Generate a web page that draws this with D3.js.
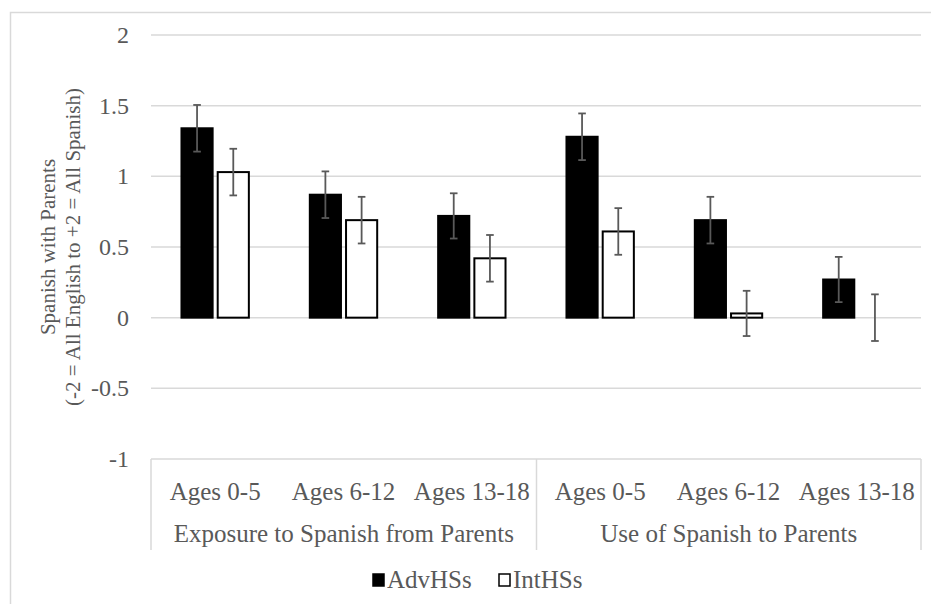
<!DOCTYPE html>
<html>
<head>
<meta charset="utf-8">
<script src="https://cdn.jsdelivr.net/npm/d3@7"></script>
<style>
  html, body { margin: 0; padding: 0; background: #fff; }
  svg { display: block; }
</style>
</head>
<body>
<svg id="chart" width="931" height="604" font-family="Liberation Serif"></svg>
<script>
// Category labels (two-level axis) and series
const ageLabels = ["Ages 0-5", "Ages 6-12", "Ages 13-18", "Ages 0-5", "Ages 6-12", "Ages 13-18"];
const groupLabels = ["Exposure to Spanish from Parents", "Use of Spanish to Parents"];
const seriesNames = ["AdvHSs", "IntHSs"];
const advValues = [1.34, 0.87, 0.72, 1.28, 0.69, 0.27];
const advErrors = [0.165, 0.165, 0.16, 0.165, 0.165, 0.16];
const intValues = [1.03, 0.69, 0.42, 0.61, 0.03, 0.00];
const intErrors = [0.165, 0.165, 0.165, 0.165, 0.16, 0.165];
const yTicks = [-1, -0.5, 0, 0.5, 1, 1.5, 2];

const TEXT = "#595959";
const svg = d3.select("#chart");
const grid = "#d9d9d9";

function label(sel) {
  return sel.attr("font-family", "Liberation Serif")
    .style("font-family", "Liberation Serif")
    .attr("fill", TEXT);
}

// Outer chart frame (continues past the right and bottom edges)
svg.append("rect")
  .attr("x", 10.5).attr("y", 12.5)
  .attr("width", 940).attr("height", 620)
  .attr("fill", "none").attr("stroke", grid).attr("stroke-width", 1.5);

const plot = { left: 151, right: 921, top: 35, bottom: 459 };

const y = d3.scaleLinear().domain([-1, 2]).range([plot.bottom, plot.top]);
const idx = d3.range(ageLabels.length);
const x0 = d3.scaleBand().domain(idx).range([plot.left, plot.right])
  .paddingInner(0.475).paddingOuter(0.2375);
const x1 = d3.scaleBand().domain(seriesNames).range([0, x0.bandwidth()]).paddingInner(0.14);

// Horizontal gridlines
svg.append("g").selectAll("line").data(yTicks).join("line")
  .attr("x1", plot.left).attr("x2", plot.right)
  .attr("y1", d => y(d)).attr("y2", d => y(d))
  .attr("stroke", grid).attr("stroke-width", 1.5);

// Y tick labels
const fmt = d => (d === 0 ? "0" : String(d));
svg.append("g").selectAll("text").data(yTicks).join("text")
  .call(label)
  .attr("x", 129).attr("y", d => y(d) + 8)
  .attr("text-anchor", "end")
  .attr("font-size", 24)
  .text(fmt);

// Y axis title (two lines, rotated)
const yTitle = svg.append("text")
  .call(label)
  .attr("transform", "translate(54.5,247) rotate(-90)")
  .attr("text-anchor", "middle").attr("font-size", 21);
yTitle.append("tspan").attr("x", 0).attr("dy", 0).text("Spanish with Parents");
yTitle.append("tspan").attr("x", 0).attr("dy", 25.5).text("(-2 = All English to +2 = All Spanish)");

// Category axis box: verticals at the ends and between the two groups
const boxBottom = 550;
const sep = [plot.left, (plot.left + plot.right) / 2 + 0.5, plot.right];
svg.append("g").selectAll("line").data(sep).join("line")
  .attr("x1", d => d).attr("x2", d => d)
  .attr("y1", plot.bottom).attr("y2", boxBottom)
  .attr("stroke", grid).attr("stroke-width", 1.5);

// Age labels
svg.append("g").selectAll("text").data(idx).join("text")
  .call(label)
  .attr("x", i => x0(i) + x0.bandwidth() / 2).attr("y", 500)
  .attr("text-anchor", "middle").attr("font-size", 25)
  .text(i => ageLabels[i]);

// Group labels
svg.append("g").selectAll("text").data(groupLabels).join("text")
  .call(label)
  .attr("x", (d, g) => (sep[g] + sep[g + 1]) / 2).attr("y", 542)
  .attr("text-anchor", "middle").attr("font-size", 25)
  .text(d => d);

// Bars
const series = [
  { name: "AdvHSs", values: advValues, errors: advErrors, fill: "#000000" },
  { name: "IntHSs", values: intValues, errors: intErrors, fill: "#ffffff" }
];

series.forEach(s => {
  const g = svg.append("g");
  g.selectAll("rect").data(idx.filter(i => s.values[i] !== 0)).join("rect")
    .attr("x", i => x0(i) + x1(s.name))
    .attr("width", x1.bandwidth())
    .attr("y", i => y(Math.max(0, s.values[i])))
    .attr("height", i => Math.abs(y(s.values[i]) - y(0)))
    .attr("fill", s.fill)
    .attr("stroke", "#000").attr("stroke-width", 2);

  // Error bars
  const cap = 3.8;
  const eb = g.append("g").attr("stroke", "#595959").attr("stroke-width", 1.8);
  idx.forEach(i => {
    const cx = x0(i) + x1(s.name) + x1.bandwidth() / 2;
    const hi = y(s.values[i] + s.errors[i]);
    const lo = y(s.values[i] - s.errors[i]);
    eb.append("line").attr("x1", cx).attr("x2", cx).attr("y1", hi).attr("y2", lo);
    eb.append("line").attr("x1", cx - cap).attr("x2", cx + cap).attr("y1", hi).attr("y2", hi);
    eb.append("line").attr("x1", cx - cap).attr("x2", cx + cap).attr("y1", lo).attr("y2", lo);
  });
});

// Legend
const legend = svg.append("g");
const legendItems = [
  { name: "AdvHSs", fill: "#000", x: 373 },
  { name: "IntHSs", fill: "#fff", x: 499 }
];
legendItems.forEach(it => {
  legend.append("rect")
    .attr("x", it.x).attr("y", 574).attr("width", 11).attr("height", 12)
    .attr("fill", it.fill).attr("stroke", "#000").attr("stroke-width", 1.5);
  legend.append("text")
    .call(label)
    .attr("x", it.x + 14).attr("y", 588)
    .attr("font-size", 25).text(it.name);
});
</script>
</body>
</html>
